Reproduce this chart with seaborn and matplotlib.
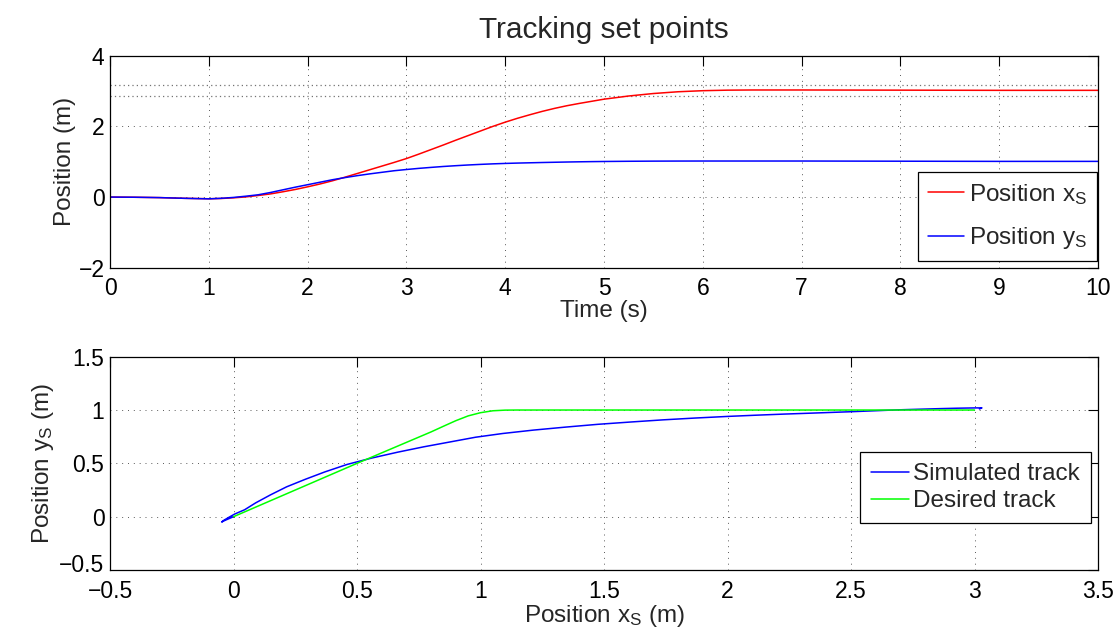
import numpy as np
import pandas as pd
import matplotlib
matplotlib.use("Agg")
import matplotlib.pyplot as plt
import matplotlib.transforms as mtransforms
import seaborn as sns

# Time samples (s)
time_s = [0.0, 0.25, 0.5, 0.75, 1.0, 1.125, 1.25, 1.375, 1.5, 1.625, 1.75,
          1.875, 2.0, 2.125, 2.25, 2.375, 2.5, 2.625, 2.75, 2.875, 3.0,
          3.125, 3.25, 3.375, 3.5, 3.625, 3.75, 3.875, 4.0, 4.125, 4.25,
          4.375, 4.5, 4.625, 4.75, 4.875, 5.0, 5.25, 5.5, 5.75, 6.0, 6.25,
          6.5, 7.0, 8.0, 9.0, 10.0]
# Simulated position x_S (m)
pos_x = [0.0, -0.005, -0.015, -0.035, -0.048, -0.04, -0.022, 0.005, 0.045,
         0.09, 0.15, 0.215, 0.29, 0.37, 0.46, 0.56, 0.665, 0.77, 0.875,
         0.98, 1.09, 1.215, 1.345, 1.475, 1.61, 1.74, 1.87, 2.0, 2.12, 2.23,
         2.33, 2.425, 2.51, 2.585, 2.65, 2.71, 2.77, 2.86, 2.93, 2.98, 3.01,
         3.025, 3.03, 3.03, 3.025, 3.02, 3.02]
# Simulated position y_S (m)
pos_y = [0.0, -0.005, -0.015, -0.035, -0.05, -0.035, -0.01, 0.025, 0.065,
         0.13, 0.205, 0.28, 0.35, 0.42, 0.49, 0.55, 0.605, 0.655, 0.70,
         0.745, 0.78, 0.812, 0.84, 0.866, 0.888, 0.908, 0.925, 0.94, 0.952,
         0.962, 0.97, 0.978, 0.985, 0.992, 0.998, 1.003, 1.007, 1.013,
         1.017, 1.019, 1.02, 1.02, 1.02, 1.02, 1.015, 1.01, 1.01]

# Set-point tolerance band around the x target
band_levels = [3.17, 2.87]

# Desired track in the x-y plane
desired_x = [0.0, 0.5, 0.8, 0.85, 0.9, 0.95, 1.0, 1.05, 1.1, 1.15, 3.0]
desired_y = [0.0, 0.5, 0.795, 0.848, 0.9, 0.945, 0.975, 0.993, 0.999, 1.0, 1.0]

TICK_FS = 16.5
LABEL_FS = 17.5
TITLE_FS = 21.5

sns.set_theme(style="white")
plt.rcParams["font.family"] = ["Liberation Sans", "DejaVu Sans"]
plt.rcParams["mathtext.default"] = "regular"
plt.rcParams.update({
    "xtick.direction": "in", "ytick.direction": "in",
    "xtick.top": True, "ytick.right": True,
    "xtick.major.size": 7, "ytick.major.size": 7,
    "xtick.major.width": 0.8, "ytick.major.width": 0.8,
    "axes.edgecolor": "black", "axes.linewidth": 0.9,
    "xtick.color": "black", "ytick.color": "black",
    "font.size": LABEL_FS,
})

fig = plt.figure(figsize=(11.17, 6.33), dpi=100)
ax1 = fig.add_axes([0.0985, 0.577, 0.8845, 0.335])
ax2 = fig.add_axes([0.0985, 0.0995, 0.8845, 0.337])

grid_kw = dict(color="0.35", linestyle=(0, (1, 5)), linewidth=0.7)


def style_legend(leg):
    frame = leg.get_frame()
    frame.set_edgecolor("black")
    frame.set_linewidth(0.9)


# Top: positions over time
ts = pd.DataFrame({"t": time_s, "x": pos_x, "y": pos_y})
for lvl in band_levels:
    ax1.axhline(lvl, color="0.45", linestyle=(0, (1, 2.5)), linewidth=0.9, zorder=1)
sns.lineplot(data=ts, x="t", y="x", ax=ax1, color="#ff0000", linewidth=1.1,
             label="Position x$_S$", sort=False, estimator=None)
sns.lineplot(data=ts, x="t", y="y", ax=ax1, color="#0000ff", linewidth=1.1,
             label="Position y$_S$", sort=False, estimator=None)
ax1.set_xlim(0, 10)
ax1.set_ylim(-2, 4)
ax1.set_xticks(range(0, 11))
ax1.set_yticks([-2, 0, 2, 4])
ax1.grid(True, **grid_kw)
ax1.set_xlabel("Time (s)", fontsize=LABEL_FS, labelpad=0)
ax1.set_ylabel("Position (m)", fontsize=LABEL_FS, labelpad=2)
ax1.set_title("Tracking set points", fontsize=TITLE_FS, pad=13)
ax1.tick_params(axis="y", labelsize=TICK_FS, pad=4)
ax1.tick_params(axis="x", labelsize=TICK_FS, pad=7)
leg1 = ax1.legend(loc="lower right", bbox_to_anchor=(0.999, 0.033),
                  borderaxespad=0, fontsize=LABEL_FS, handlelength=1.5,
                  handletextpad=0.2, borderpad=0.4, labelspacing=0.75,
                  fancybox=False, framealpha=1)
style_legend(leg1)

# Bottom: track in the plane
sim = pd.DataFrame({"x": pos_x, "y": pos_y})
des = pd.DataFrame({"x": desired_x, "y": desired_y})
sns.lineplot(data=sim, x="x", y="y", ax=ax2, color="#0000ff", linewidth=1.1,
             label="Simulated track", sort=False, estimator=None)
sns.lineplot(data=des, x="x", y="y", ax=ax2, color="#00ff00", linewidth=1.1,
             label="Desired track", sort=False, estimator=None)
ax2.set_xlim(-0.5, 3.5)
ax2.set_ylim(-0.5, 1.5)
ax2.set_xticks(np.arange(-0.5, 3.51, 0.5))
ax2.set_yticks(np.arange(-0.5, 1.51, 0.5))
ax2.set_xticklabels(["\u22120.5", "0", "0.5", "1", "1.5", "2", "2.5", "3", "3.5"])
ax2.set_yticklabels(["\u22120.5", "0", "0.5", "1", "1.5"])
ax2.grid(True, **grid_kw)
ax2.set_xlabel("Position x$_S$ (m)", fontsize=LABEL_FS, labelpad=0)
ax2.set_ylabel("Position y$_S$ (m)", fontsize=LABEL_FS, labelpad=2)
ax2.tick_params(axis="y", labelsize=TICK_FS, pad=4)
ax2.tick_params(axis="x", labelsize=TICK_FS, pad=7)
leg2 = ax2.legend(loc="lower right", bbox_to_anchor=(0.993, 0.22),
                  borderaxespad=0, fontsize=LABEL_FS, handlelength=1.55,
                  handletextpad=0.2, borderpad=0.45, labelspacing=0.2,
                  fancybox=False, framealpha=1)
style_legend(leg2)

# lift the lowest y tick label a little so it clears the first x tick label
lowest = ax2.get_yticklabels()[0]
lowest.set_transform(lowest.get_transform() +
                     mtransforms.ScaledTranslation(0, 5 / 72, fig.dpi_scale_trans))

for ax in (ax1, ax2):
    ax.set_axisbelow(True)

fig.savefig("out.png", dpi=100, facecolor="white")
